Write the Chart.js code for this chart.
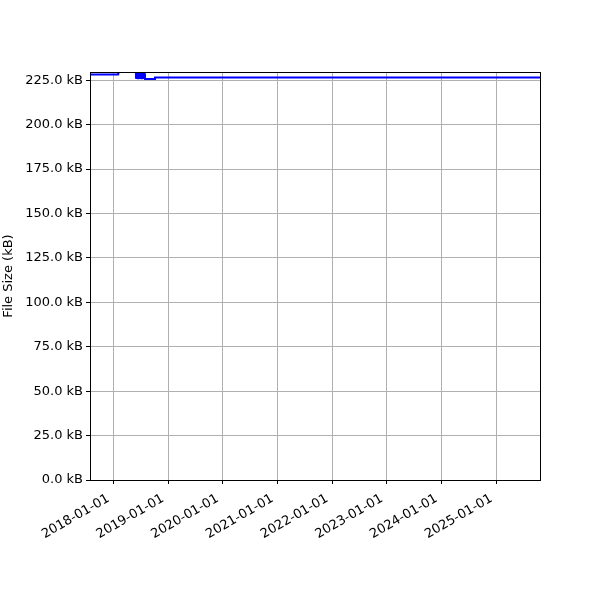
<!DOCTYPE html>
<html>
<head>
<meta charset="utf-8">
<script src="https://cdn.jsdelivr.net/npm/chart.js@4/dist/chart.umd.min.js"></script>
<style>
  html, body { margin: 0; padding: 0; background: #fff; }
  #wrap { width: 600px; height: 600px; }
</style>
</head>
<body>
<div id="wrap"><canvas id="size-chart" width="600" height="600"></canvas></div>
<script>
// ------------------------------------------------------------
//  Data
// ------------------------------------------------------------
const dates = [
  '2017-07-30', '2018-02-01', '2018-02-02', '2018-02-04', '2018-05-30',
  '2018-06-01', '2018-06-04', '2018-06-07', '2018-06-10', '2018-06-14',
  '2018-06-18', '2018-06-22', '2018-06-26', '2018-06-30', '2018-07-04',
  '2018-07-08', '2018-07-12', '2018-07-16', '2018-07-20', '2018-07-24',
  '2018-07-28', '2018-07-31', '2018-10-06', '2025-10-19'
]
const sizesKB = [
  228.2, 228.2, 228.9, 229.9, 229.9,
  226.3, 229.0, 226.2, 228.9, 226.1,
  228.8, 226.3, 229.0, 226.2, 228.7,
  226.1, 228.6, 226.3, 228.9, 226.2,
  228.3, 225.6, 226.5, 226.5
]
const xTickDates = [
  '2018-01-01', '2019-01-01', '2020-01-01', '2021-01-01',
  '2022-01-01', '2023-01-01', '2024-01-01', '2025-01-01'
]
const yTicks = [0, 25, 50, 75, 100, 125, 150, 175, 200, 225]
const xRange = ['2017-07-29', '2025-10-19']
const yMax = 229.6

const toMs = s => Date.parse(s + 'T00:00:00Z')
const fmtDate = ms => new Date(ms).toISOString().slice(0, 10)

// ------------------------------------------------------------
//  Frame (matplotlib-style spines on all four sides)
// ------------------------------------------------------------
const framePlugin = {
  id: 'frame',
  afterDatasetsDraw(chart) {
    const { ctx, chartArea: a } = chart
    ctx.save()
    ctx.strokeStyle = '#000'
    ctx.lineWidth = 1
    ctx.strokeRect(Math.round(a.left) + 0.5, Math.round(a.top) + 0.5,
                   Math.round(a.right - a.left), Math.round(a.bottom - a.top))
    ctx.restore()
  }
}

Chart.defaults.font.family = 'DejaVu Sans'
Chart.defaults.font.size = 13
Chart.defaults.color = '#000'

const ctx = document.getElementById('size-chart').getContext('2d')

new Chart(ctx, {
  type: 'line',
  data: {
    datasets: [{
      data: dates.map((d, i) => ({ x: toMs(d), y: sizesKB[i] })),
      borderColor: '#0000ff',
      borderWidth: 2,
      pointRadius: 0,
      stepped: 'before',
      fill: false,
      clip: 0,
    }]
  },
  options: {
    responsive: false,
    animation: false,
    devicePixelRatio: 1,
    layout: { padding: { top: 72, right: 60, left: 0, bottom: 0 } },
    plugins: { legend: { display: false }, tooltip: { enabled: false } },
    scales: {
      x: {
        type: 'linear',
        min: toMs(xRange[0]),
        max: toMs(xRange[1]),
        afterBuildTicks: s => { s.ticks = xTickDates.map(d => ({ value: toMs(d) })) },
        afterFit: s => { s.height = 120 },
        ticks: {
          callback: v => fmtDate(v),
          minRotation: 30,
          maxRotation: 30,
          autoSkip: false,
          padding: 7,
          labelOffset: -5,
          color: '#000',
        },
        grid: { color: '#b0b0b0', lineWidth: 1, tickColor: '#000', tickLength: 4 },
        border: { color: '#000' },
      },
      y: {
        min: 0,
        max: yMax,
        afterBuildTicks: s => { s.ticks = yTicks.map(v => ({ value: v })) },
        afterFit: s => { s.width = 90 },
        ticks: {
          callback: v => v.toFixed(1) + ' kB',
          padding: 3,
          color: '#000',
        },
        grid: { color: '#b0b0b0', lineWidth: 1, tickColor: '#000', tickLength: 4 },
        border: { color: '#000' },
        title: {
          display: true,
          text: 'File Size (kB)',
          color: '#000',
          font: { size: 13 },
          padding: { top: 1, bottom: 0 },
        },
      }
    }
  },
  plugins: [framePlugin]
})
</script>
</body>
</html>
